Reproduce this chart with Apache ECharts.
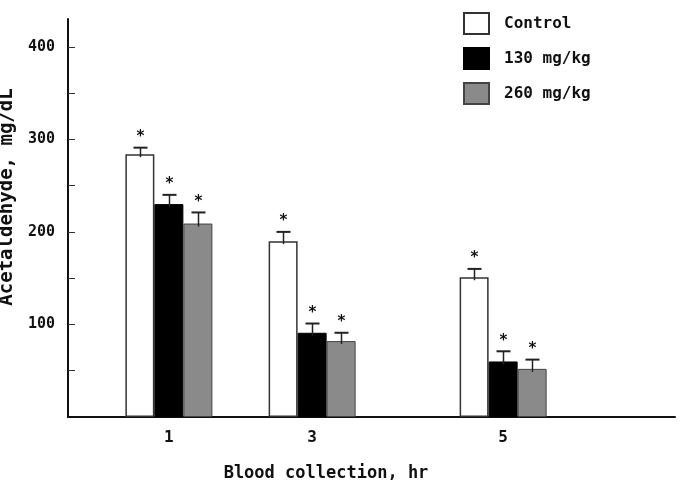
<!DOCTYPE html>
<html lang="en" style="height: 100%">
<head>
  <meta charset="utf-8">
</head>
<body style="height: 100%; margin: 0; background: #fff">
  <div id="container" style="width: 680px; height: 484px"></div>
  <script type="text/javascript" src="https://cdn.jsdelivr.net/npm/echarts@6.0.0/dist/echarts.min.js"></script>
  <script type="text/javascript">
    // values
    const hours = ['1', '3', '5'];
    const control = [284, 190, 151];
    const dose130 = [230, 91, 60];
    const dose260 = [209, 82, 52];
    const controlErr = [7, 10, 9];
    const dose130Err = [10, 10, 11];
    const dose260Err = [12, 9, 10];
    const seriesNames = ['Control', '130 mg/kg', '260 mg/kg'];
    const yTickValues = [50, 100, 150, 200, 250, 300, 350, 400];
    const yLabelValues = [100, 200, 300, 400];

    // the groups are not evenly spaced in the original, so place them on a finer slot grid
    const slots = [0, 3, 7];
    const slotCount = 8;
    const barW = 29;
    const font = 'DejaVu Sans Mono';

    const categories = new Array(slotCount).fill('');
    slots.forEach(function (s, i) { categories[s] = hours[i]; });

    function spread(values) {
      const out = new Array(slotCount).fill('-');
      slots.forEach(function (s, i) { out[s] = values[i]; });
      return out;
    }
    function errData(values, errs) {
      return slots.map(function (s, i) { return [s, values[i], errs[i]]; });
    }
    function errRenderer(offset) {
      return function (params, api) {
        const base = api.coord([api.value(0), api.value(1)]);
        const top = api.coord([api.value(0), api.value(1) + api.value(2)]);
        const x = Math.round(base[0] + offset) + 0.5;
        return {
          type: 'group',
          children: [
            { type: 'line', shape: { x1: x, y1: base[1] + 3, x2: x, y2: top[1] },
              style: { stroke: '#222', lineWidth: 1.5 } },
            { type: 'line', shape: { x1: x - 7, y1: top[1], x2: x + 7, y2: top[1] },
              style: { stroke: '#222', lineWidth: 2 } },
            { type: 'text', x: x, y: top[1] - 3,
              style: { text: '*', font: 'bold 15px DejaVu Sans', fill: '#111',
                       align: 'center', verticalAlign: 'bottom' } }
          ]
        };
      };
    }

    var dom = document.getElementById('container');
    var myChart = echarts.init(dom, null, { renderer: 'canvas' });

    var option = {
      animation: false,
      backgroundColor: '#fff',
      legend: {
        orient: 'vertical',
        left: 458,
        top: 7,
        itemWidth: 25,
        itemHeight: 21,
        itemGap: 12,
        icon: 'rect',
        data: seriesNames,
        textStyle: { fontFamily: font, fontWeight: 'bold', fontSize: 16, color: '#111', padding: [0, 0, 0, 10] }
      },
      grid: [
        { left: 68, right: 5, top: 19, bottom: 67, outerBoundsMode: 'none' },
        { left: 145, width: 382, top: 19, bottom: 67, outerBoundsMode: 'none' }
      ],
      xAxis: [
        {
          type: 'value', gridIndex: 0, min: 0, max: 1,
          axisLine: { show: true, onZero: false, lineStyle: { color: '#111', width: 2 } },
          axisTick: { show: false }, axisLabel: { show: false }, splitLine: { show: false }
        },
        {
          type: 'category', gridIndex: 1, data: categories,
          axisLine: { show: false }, axisTick: { show: false }, splitLine: { show: false },
          axisLabel: { interval: 0, margin: 13, fontFamily: font, fontWeight: 'bold', fontSize: 16, color: '#111' },
          name: 'Blood collection, hr',
          nameLocation: 'middle',
          nameGap: 48,
          nameTextStyle: { fontFamily: font, fontWeight: 'bold', fontSize: 17, color: '#111', padding: [0, 20, 0, 0] }
        }
      ],
      yAxis: [
        {
          type: 'value', gridIndex: 0, min: 0, max: 430,
          axisLine: { show: true, lineStyle: { color: '#111', width: 2 } },
          axisTick: { show: true, inside: true, length: 7, customValues: yTickValues, lineStyle: { color: '#333', width: 1 } },
          axisLabel: { customValues: yLabelValues, margin: 13, fontFamily: font, fontWeight: 'bold', fontSize: 15, color: '#111' },
          splitLine: { show: false },
          name: 'Acetaldehyde, mg/dL',
          nameLocation: 'middle',
          nameGap: 45,
          nameTextStyle: { fontFamily: font, fontWeight: 'bold', fontSize: 19, color: '#111', padding: [0, 0, 0, 42] }
        },
        { type: 'value', gridIndex: 1, min: 0, max: 430, show: false }
      ],
      series: [
        {
          name: seriesNames[0], type: 'bar', xAxisIndex: 1, yAxisIndex: 1, clip: false,
          barWidth: barW, barGap: '0%', data: spread(control),
          itemStyle: { color: '#fff', borderColor: '#333', borderWidth: 1.5 }
        },
        {
          name: seriesNames[1], type: 'bar', xAxisIndex: 1, yAxisIndex: 1, clip: false,
          barWidth: barW, barGap: '0%', data: spread(dose130),
          itemStyle: { color: '#000', borderColor: '#000', borderWidth: 1 }
        },
        {
          name: seriesNames[2], type: 'bar', xAxisIndex: 1, yAxisIndex: 1, clip: false,
          barWidth: barW, barGap: '0%', data: spread(dose260),
          itemStyle: { color: '#8a8a8a', borderColor: '#444', borderWidth: 1 }
        },
        { type: 'custom', xAxisIndex: 1, yAxisIndex: 1, z: 5, clip: false, renderItem: errRenderer(-barW), data: errData(control, controlErr) },
        { type: 'custom', xAxisIndex: 1, yAxisIndex: 1, z: 5, clip: false, renderItem: errRenderer(0), data: errData(dose130, dose130Err) },
        { type: 'custom', xAxisIndex: 1, yAxisIndex: 1, z: 5, clip: false, renderItem: errRenderer(barW), data: errData(dose260, dose260Err) }
      ]
    };

    myChart.setOption(option);
    window.addEventListener('resize', myChart.resize);
  </script>
</body>
</html>
